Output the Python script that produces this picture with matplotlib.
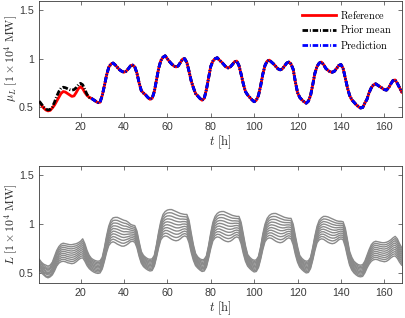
import numpy as np
import matplotlib
matplotlib.use("Agg")
import matplotlib.pyplot as plt

plt.rcParams['mathtext.fontset'] = 'cm'
plt.rcParams['lines.scale_dashes'] = False

# ---------------- data ----------------
time_h = list(range(1, 169))
pred_time_h = list(range(25, 169))

reference = [
    0.55, 0.52, 0.49, 0.47, 0.46, 0.465, 0.49, 0.52, 0.56, 0.60, 0.64, 0.66, 0.655, 0.64, 0.625, 0.61, 0.615, 0.65, 0.69, 0.71, 0.69, 0.65, 0.62, 0.60,
    0.59, 0.575, 0.56, 0.545, 0.55, 0.62, 0.72, 0.83, 0.91, 0.945, 0.955, 0.935, 0.91, 0.885, 0.87, 0.86, 0.87, 0.895, 0.925, 0.935, 0.915, 0.85, 0.75, 0.67,
    0.645, 0.625, 0.60, 0.58, 0.59, 0.66, 0.78, 0.90, 0.98, 1.015, 1.03, 1.0, 0.97, 0.945, 0.925, 0.915, 0.925, 0.96, 0.995, 1.0, 0.96, 0.87, 0.77, 0.70,
    0.64, 0.615, 0.59, 0.57, 0.59, 0.68, 0.80, 0.92, 0.975, 1.0, 1.01, 0.985, 0.965, 0.94, 0.915, 0.905, 0.915, 0.94, 0.97, 0.975, 0.93, 0.84, 0.74, 0.66,
    0.625, 0.60, 0.575, 0.555, 0.57, 0.62, 0.72, 0.84, 0.93, 0.975, 0.985, 0.965, 0.945, 0.92, 0.895, 0.885, 0.895, 0.925, 0.955, 0.965, 0.945, 0.89, 0.76, 0.65,
    0.60, 0.575, 0.555, 0.54, 0.56, 0.62, 0.73, 0.85, 0.92, 0.955, 0.965, 0.94, 0.90, 0.88, 0.865, 0.86, 0.87, 0.90, 0.93, 0.94, 0.90, 0.80, 0.70, 0.62,
    0.575, 0.55, 0.525, 0.505, 0.49, 0.495, 0.54, 0.58, 0.65, 0.70, 0.73, 0.74, 0.725, 0.71, 0.695, 0.68, 0.675, 0.70, 0.74, 0.775, 0.78, 0.745, 0.70, 0.655,
]

prior_mean = [
    0.56, 0.53, 0.50, 0.48, 0.47, 0.475, 0.50, 0.55, 0.61, 0.66, 0.695, 0.705, 0.70, 0.69, 0.68, 0.675, 0.68, 0.70, 0.73, 0.745, 0.73, 0.68, 0.63, 0.60,
    0.59, 0.575, 0.56, 0.545, 0.55, 0.62, 0.72, 0.83, 0.91, 0.945, 0.955, 0.935, 0.91, 0.885, 0.87, 0.86, 0.87, 0.895, 0.925, 0.935, 0.915, 0.85, 0.75, 0.67,
    0.645, 0.625, 0.60, 0.58, 0.59, 0.66, 0.78, 0.90, 0.98, 1.015, 1.03, 1.0, 0.97, 0.945, 0.925, 0.915, 0.925, 0.96, 0.995, 1.0, 0.96, 0.87, 0.77, 0.70,
    0.64, 0.615, 0.59, 0.57, 0.59, 0.68, 0.80, 0.92, 0.975, 1.0, 1.01, 0.985, 0.965, 0.94, 0.915, 0.905, 0.915, 0.94, 0.97, 0.975, 0.93, 0.84, 0.74, 0.66,
    0.625, 0.60, 0.575, 0.555, 0.57, 0.62, 0.72, 0.84, 0.93, 0.975, 0.985, 0.965, 0.945, 0.92, 0.895, 0.885, 0.895, 0.925, 0.955, 0.965, 0.945, 0.89, 0.76, 0.65,
    0.60, 0.575, 0.555, 0.54, 0.56, 0.62, 0.73, 0.85, 0.92, 0.955, 0.965, 0.94, 0.90, 0.88, 0.865, 0.86, 0.87, 0.90, 0.93, 0.94, 0.90, 0.80, 0.70, 0.62,
    0.575, 0.55, 0.525, 0.505, 0.49, 0.495, 0.54, 0.58, 0.65, 0.70, 0.73, 0.74, 0.725, 0.71, 0.695, 0.68, 0.675, 0.70, 0.74, 0.775, 0.78, 0.745, 0.70, 0.655,
]

prediction = [
    0.59, 0.575, 0.56, 0.545, 0.55, 0.62, 0.72, 0.83, 0.91, 0.945, 0.955, 0.935, 0.91, 0.885, 0.87, 0.86, 0.87, 0.895, 0.925, 0.935, 0.915, 0.85, 0.75, 0.67,
    0.645, 0.625, 0.60, 0.58, 0.59, 0.66, 0.78, 0.90, 0.98, 1.015, 1.03, 1.0, 0.97, 0.945, 0.925, 0.915, 0.925, 0.96, 0.995, 1.0, 0.96, 0.87, 0.77, 0.70,
    0.64, 0.615, 0.59, 0.57, 0.59, 0.68, 0.80, 0.92, 0.975, 1.0, 1.01, 0.985, 0.965, 0.94, 0.915, 0.905, 0.915, 0.94, 0.97, 0.975, 0.93, 0.84, 0.74, 0.66,
    0.625, 0.60, 0.575, 0.555, 0.57, 0.62, 0.72, 0.84, 0.93, 0.975, 0.985, 0.965, 0.945, 0.92, 0.895, 0.885, 0.895, 0.925, 0.955, 0.965, 0.945, 0.89, 0.76, 0.65,
    0.60, 0.575, 0.555, 0.54, 0.56, 0.62, 0.73, 0.85, 0.92, 0.955, 0.965, 0.94, 0.90, 0.88, 0.865, 0.86, 0.87, 0.90, 0.93, 0.94, 0.90, 0.80, 0.70, 0.62,
    0.575, 0.55, 0.525, 0.505, 0.49, 0.495, 0.54, 0.58, 0.65, 0.70, 0.73, 0.74, 0.725, 0.71, 0.695, 0.68, 0.675, 0.70, 0.74, 0.775, 0.78, 0.745, 0.70, 0.655,
]

# load scenarios: one row per hour, one column per scenario
load_scenarios = [
    [.64, .63, .62, .60, .59, .58, .57, .56, .54, .53],
    [.61, .60, .59, .57, .56, .55, .54, .53, .51, .50],
    [.59, .58, .56, .55, .54, .53, .51, .50, .49, .48],
    [.58, .56, .55, .54, .52, .51, .50, .49, .47, .46],
    [.57, .56, .54, .53, .52, .50, .49, .48, .46, .45],
    [.58, .56, .55, .54, .52, .51, .50, .48, .47, .46],
    [.61, .60, .58, .57, .55, .54, .52, .51, .49, .48],
    [.67, .65, .64, .62, .60, .59, .57, .55, .54, .52],
    [.73, .71, .69, .68, .66, .64, .62, .60, .58, .57],
    [.77, .75, .73, .71, .69, .68, .66, .64, .62, .60],
    [.795, .775, .755, .735, .715, .695, .675, .655, .635, .615],
    [.805, .784, .764, .743, .723, .702, .682, .661, .641, .62],
    [.80, .779, .759, .738, .718, .697, .677, .656, .636, .615],
    [.795, .774, .753, .732, .711, .689, .668, .647, .626, .605],
    [.79, .769, .748, .727, .706, .684, .663, .642, .621, .60],
    [.79, .768, .747, .725, .703, .682, .66, .638, .617, .595],
    [.795, .773, .752, .73, .708, .687, .665, .643, .622, .60],
    [.80, .779, .759, .738, .718, .697, .677, .656, .636, .615],
    [.81, .791, .771, .752, .732, .713, .693, .674, .654, .635],
    [.825, .806, .786, .767, .747, .728, .708, .689, .669, .65],
    [.85, .828, .807, .785, .763, .742, .72, .698, .677, .655],
    [.80, .78, .76, .74, .72, .70, .68, .66, .64, .62],
    [.73, .713, .696, .678, .661, .644, .627, .61, .592, .575],
    [.68, .665, .65, .635, .62, .605, .59, .575, .56, .545],
    [.65, .636, .622, .608, .594, .581, .567, .553, .539, .525],
    [.635, .621, .607, .593, .579, .566, .552, .538, .524, .51],
    [.625, .611, .597, .583, .569, .556, .542, .528, .514, .50],
    [.62, .606, .592, .578, .564, .551, .537, .523, .509, .495],
    [.625, .611, .597, .583, .569, .556, .542, .528, .514, .50],
    [.66, .647, .633, .62, .607, .593, .58, .567, .553, .54],
    [.76, .744, .729, .713, .698, .682, .667, .651, .636, .62],
    [.88, .861, .842, .823, .804, .786, .767, .748, .729, .71],
    [.98, .958, .936, .913, .891, .869, .847, .824, .802, .78],
    [1.04, 1.014, .989, .963, .938, .912, .887, .861, .836, .81],
    [1.065, 1.038, 1.011, .983, .956, .929, .902, .874, .847, .82],
    [1.07, 1.041, 1.012, .983, .954, .926, .897, .868, .839, .81],
    [1.07, 1.039, 1.009, .978, .948, .917, .887, .856, .826, .795],
    [1.06, 1.029, .999, .968, .938, .907, .877, .846, .816, .785],
    [1.05, 1.019, .989, .958, .928, .897, .867, .836, .806, .775],
    [1.04, 1.011, .981, .952, .922, .893, .863, .834, .804, .775],
    [1.035, 1.007, .979, .952, .924, .896, .868, .841, .813, .785],
    [1.02, .996, .971, .947, .922, .898, .873, .849, .824, .80],
    [1.00, .98, .96, .94, .92, .90, .88, .86, .84, .82],
    [.99, .972, .953, .935, .917, .898, .88, .862, .843, .825],
    [.985, .966, .947, .928, .909, .891, .872, .853, .834, .815],
    [.93, .911, .892, .873, .854, .836, .817, .798, .779, .76],
    [.82, .803, .787, .77, .753, .737, .72, .703, .687, .67],
    [.72, .707, .693, .68, .667, .653, .64, .627, .613, .60],
    [.68, .667, .654, .642, .629, .616, .603, .59, .578, .565],
    [.66, .647, .634, .622, .609, .596, .583, .57, .558, .545],
    [.645, .632, .619, .607, .594, .581, .568, .555, .543, .53],
    [.64, .627, .613, .60, .587, .573, .56, .547, .533, .52],
    [.645, .632, .618, .605, .592, .578, .565, .552, .538, .525],
    [.68, .668, .656, .643, .631, .619, .607, .594, .582, .57],
    [.79, .776, .761, .747, .732, .718, .703, .689, .674, .66],
    [.92, .902, .884, .867, .849, .831, .813, .796, .778, .76],
    [1.03, 1.009, .988, .967, .946, .924, .903, .882, .861, .84],
    [1.10, 1.074, 1.049, 1.023, .998, .972, .947, .921, .896, .87],
    [1.13, 1.102, 1.074, 1.047, 1.019, .991, .963, .936, .908, .88],
    [1.145, 1.115, 1.085, 1.055, 1.025, .995, .965, .935, .905, .875],
    [1.15, 1.118, 1.086, 1.053, 1.021, .989, .957, .924, .892, .86],
    [1.15, 1.116, 1.082, 1.048, 1.014, .981, .947, .913, .879, .845],
    [1.14, 1.106, 1.072, 1.038, 1.004, .971, .937, .903, .869, .835],
    [1.13, 1.097, 1.063, 1.03, .997, .963, .93, .897, .863, .83],
    [1.12, 1.088, 1.057, 1.025, .993, .962, .93, .898, .867, .835],
    [1.11, 1.081, 1.052, 1.023, .994, .966, .937, .908, .879, .85],
    [1.105, 1.079, 1.053, 1.027, 1.001, .974, .948, .922, .896, .87],
    [1.10, 1.076, 1.051, 1.027, 1.002, .978, .953, .929, .904, .88],
    [1.10, 1.074, 1.049, 1.023, .998, .972, .947, .921, .896, .87],
    [1.04, 1.014, .989, .963, .938, .912, .887, .861, .836, .81],
    [.91, .888, .866, .843, .821, .799, .777, .754, .732, .71],
    [.79, .772, .754, .737, .719, .701, .683, .666, .648, .63],
    [.70, .686, .672, .658, .644, .631, .617, .603, .589, .575],
    [.665, .652, .639, .627, .614, .601, .588, .575, .563, .55],
    [.645, .632, .619, .607, .594, .581, .568, .555, .543, .53],
    [.635, .622, .608, .595, .582, .568, .555, .542, .528, .515],
    [.64, .627, .613, .60, .587, .573, .56, .547, .533, .52],
    [.675, .662, .649, .637, .624, .611, .598, .585, .573, .56],
    [.78, .766, .751, .737, .722, .708, .693, .679, .664, .65],
    [.91, .892, .874, .857, .839, .821, .803, .786, .768, .75],
    [1.02, .999, .978, .957, .936, .914, .893, .872, .851, .83],
    [1.08, 1.056, 1.031, 1.007, .982, .958, .933, .909, .884, .86],
    [1.11, 1.083, 1.057, 1.03, 1.003, .977, .95, .923, .897, .87],
    [1.125, 1.096, 1.067, 1.038, 1.009, .981, .952, .923, .894, .865],
    [1.13, 1.099, 1.068, 1.037, 1.006, .974, .943, .912, .881, .85],
    [1.13, 1.097, 1.064, 1.032, .999, .966, .933, .90, .868, .835],
    [1.12, 1.087, 1.054, 1.022, .989, .956, .923, .89, .858, .825],
    [1.11, 1.078, 1.046, 1.013, .981, .949, .917, .884, .852, .82],
    [1.10, 1.069, 1.039, 1.008, .978, .947, .917, .886, .856, .825],
    [1.09, 1.062, 1.034, 1.007, .979, .951, .923, .896, .868, .84],
    [1.085, 1.06, 1.035, 1.01, .985, .96, .935, .91, .885, .86],
    [1.08, 1.057, 1.033, 1.01, .987, .963, .94, .917, .893, .87],
    [1.08, 1.056, 1.031, 1.007, .982, .958, .933, .909, .884, .86],
    [1.02, .996, .971, .947, .922, .898, .873, .849, .824, .80],
    [.90, .878, .856, .833, .811, .789, .767, .744, .722, .70],
    [.78, .762, .744, .727, .709, .691, .673, .656, .638, .62],
    [.69, .677, .663, .65, .637, .623, .61, .597, .583, .57],
    [.66, .647, .634, .622, .609, .596, .583, .57, .558, .545],
    [.64, .627, .614, .602, .589, .576, .563, .55, .538, .525],
    [.63, .617, .603, .59, .577, .563, .55, .537, .523, .51],
    [.635, .622, .608, .595, .582, .568, .555, .542, .528, .515],
    [.67, .657, .644, .632, .619, .606, .593, .58, .568, .555],
    [.77, .756, .741, .727, .712, .698, .683, .669, .654, .64],
    [.90, .882, .864, .847, .829, .811, .793, .776, .758, .74],
    [1.00, .98, .96, .94, .92, .90, .88, .86, .84, .82],
    [1.06, 1.037, 1.013, .99, .967, .943, .92, .897, .873, .85],
    [1.09, 1.064, 1.039, 1.013, .988, .962, .937, .911, .886, .86],
    [1.105, 1.077, 1.049, 1.022, .994, .966, .938, .911, .883, .855],
    [1.11, 1.08, 1.05, 1.02, .99, .96, .93, .90, .87, .84],
    [1.11, 1.078, 1.047, 1.015, .983, .952, .92, .888, .857, .825],
    [1.10, 1.068, 1.037, 1.005, .973, .942, .91, .878, .847, .815],
    [1.09, 1.059, 1.028, .997, .966, .934, .903, .872, .841, .81],
    [1.08, 1.051, 1.021, .992, .962, .933, .903, .874, .844, .815],
    [1.07, 1.043, 1.017, .99, .963, .937, .91, .883, .857, .83],
    [1.065, 1.041, 1.017, .993, .969, .946, .922, .898, .874, .85],
    [1.06, 1.038, 1.016, .993, .971, .949, .927, .904, .882, .86],
    [1.06, 1.037, 1.013, .99, .967, .943, .92, .897, .873, .85],
    [1.00, .977, .953, .93, .907, .883, .86, .837, .813, .79],
    [.88, .859, .838, .817, .796, .774, .753, .732, .711, .69],
    [.77, .752, .734, .717, .699, .681, .663, .646, .628, .61],
    [.68, .667, .653, .64, .627, .613, .60, .587, .573, .56],
    [.65, .637, .624, .612, .599, .586, .573, .56, .548, .535],
    [.63, .617, .604, .592, .579, .566, .553, .54, .528, .515],
    [.62, .607, .593, .58, .567, .553, .54, .527, .513, .50],
    [.625, .612, .598, .585, .572, .558, .545, .532, .518, .505],
    [.66, .647, .634, .622, .609, .596, .583, .57, .558, .545],
    [.76, .746, .731, .717, .702, .688, .673, .659, .644, .63],
    [.88, .863, .847, .83, .813, .797, .78, .763, .747, .73],
    [.98, .961, .942, .923, .904, .886, .867, .848, .829, .81],
    [1.04, 1.018, .996, .973, .951, .929, .907, .884, .862, .84],
    [1.065, 1.041, 1.017, .993, .969, .946, .922, .898, .874, .85],
    [1.08, 1.054, 1.028, 1.002, .976, .949, .923, .897, .871, .845],
    [1.08, 1.052, 1.024, .997, .969, .941, .913, .886, .858, .83],
    [1.075, 1.046, 1.017, .988, .959, .931, .902, .873, .844, .815],
    [1.065, 1.036, 1.007, .978, .949, .921, .892, .863, .834, .805],
    [1.055, 1.027, .998, .97, .942, .913, .885, .857, .828, .80],
    [1.045, 1.018, .992, .965, .938, .912, .885, .858, .832, .805],
    [1.035, 1.011, .987, .963, .939, .916, .892, .868, .844, .82],
    [1.03, 1.009, .988, .967, .946, .924, .903, .882, .861, .84],
    [1.03, 1.01, .99, .97, .95, .93, .91, .89, .87, .85],
    [1.025, 1.004, .984, .963, .943, .922, .902, .881, .861, .84],
    [.96, .939, .918, .897, .876, .854, .833, .812, .791, .77],
    [.84, .821, .802, .783, .764, .746, .727, .708, .689, .67],
    [.72, .704, .689, .673, .658, .642, .627, .611, .596, .58],
    [.66, .646, .631, .617, .602, .588, .573, .559, .544, .53],
    [.62, .607, .593, .58, .567, .553, .54, .527, .513, .50],
    [.60, .587, .573, .56, .547, .533, .52, .507, .493, .48],
    [.585, .572, .558, .545, .532, .518, .505, .492, .478, .465],
    [.58, .567, .553, .54, .527, .513, .50, .487, .473, .46],
    [.585, .572, .558, .545, .532, .518, .505, .492, .478, .465],
    [.62, .607, .593, .58, .567, .553, .54, .527, .513, .50],
    [.68, .666, .651, .637, .622, .608, .593, .579, .564, .55],
    [.74, .723, .707, .69, .673, .657, .64, .623, .607, .59],
    [.79, .771, .752, .733, .714, .696, .677, .658, .639, .62],
    [.815, .795, .775, .755, .735, .715, .695, .675, .655, .635],
    [.825, .804, .784, .763, .743, .722, .702, .681, .661, .64],
    [.82, .799, .779, .758, .738, .717, .697, .676, .656, .635],
    [.815, .794, .773, .752, .731, .709, .688, .667, .646, .625],
    [.81, .789, .768, .747, .726, .704, .683, .662, .641, .62],
    [.81, .788, .767, .745, .723, .702, .68, .658, .637, .615],
    [.815, .793, .772, .75, .728, .707, .685, .663, .642, .62],
    [.825, .804, .783, .762, .741, .719, .698, .677, .656, .635],
    [.84, .819, .799, .778, .758, .737, .717, .696, .676, .655],
    [.86, .839, .818, .797, .776, .754, .733, .712, .691, .67],
    [.875, .853, .831, .808, .786, .764, .742, .719, .697, .675],
    [.85, .828, .806, .783, .761, .739, .717, .694, .672, .65],
    [.80, .779, .758, .737, .716, .694, .673, .652, .631, .61],
    [.76, .74, .72, .70, .68, .66, .64, .62, .60, .58],
]

x_ticks = [20, 40, 60, 80, 100, 120, 140, 160]
y_ticks = [0.5, 1.0, 1.5]
y_tick_labels = ["0.5", "1", "1.5"]
legend_labels = [r"$\mathrm{Reference}$", r"$\mathrm{Prior\ mean}$", r"$\mathrm{Prediction}$"]

# ---------------- figure ----------------
W, H = 405, 318
fig = plt.figure(figsize=(W / 100, H / 100), dpi=100)
ax_color = "#3a3a3a"


def px_axes(left, top, right, bottom):
    return fig.add_axes([left / W, 1 - bottom / H, (right - left) / W, (bottom - top) / H])


ax1 = px_axes(39.3, 0.7, 401.7, 116.7)
ax2 = px_axes(39.3, 165.7, 401.7, 282.7)

dash_pat = (4.0, 1.3, 0.7, 1.3)

ax1.plot(time_h, reference, color=(1, 0, 0), lw=2.0, label=legend_labels[0], zorder=2)
ax1.plot(time_h, prior_mean, color="k", lw=2.0, dashes=dash_pat, label=legend_labels[1], zorder=3)
ax1.plot(pred_time_h, prediction, color=(0, 0, 1), lw=2.0, dashes=dash_pat, label=legend_labels[2], zorder=4)

ax2.plot(time_h, np.array(load_scenarios), color="#8a8a8a", lw=1.0)

for ax, ylab in ((ax1, r"$\mu_L\ [1 \times 10^4\ \mathrm{MW}]$"), (ax2, r"$L\ [1 \times 10^4\ \mathrm{MW}]$")):
    ax.set_xlim(1, 168)
    ax.set_ylim(0.4, 1.6)
    ax.set_xticks(x_ticks)
    ax.set_xticklabels([str(v) for v in x_ticks])
    ax.set_yticks(y_ticks)
    ax.set_yticklabels(y_tick_labels)
    ax.tick_params(direction="in", length=2.6, width=0.5, top=True, right=True,
                   colors=ax_color, labelsize=7.7, pad=4)
    for lab in ax.get_xticklabels() + ax.get_yticklabels():
        lab.set_fontfamily("Liberation Sans")
    for sp in ax.spines.values():
        sp.set_color(ax_color)
        sp.set_linewidth(0.6)
    ax.set_xlabel(r"$t\ [\mathrm{h}]$", fontsize=9, color="#262626", labelpad=1)
    ax.set_ylabel(ylab, fontsize=8.5, color="#262626")
    ax.yaxis.set_label_coords(-0.054, 0.5)

leg = ax1.legend(loc="upper left", bbox_to_anchor=(0.726, 0.93), frameon=False,
                 fontsize=7.4, handlelength=3.3, handletextpad=0.4, labelspacing=0.25,
                 borderpad=0, borderaxespad=0)

fig.savefig("out.png", dpi=100)
